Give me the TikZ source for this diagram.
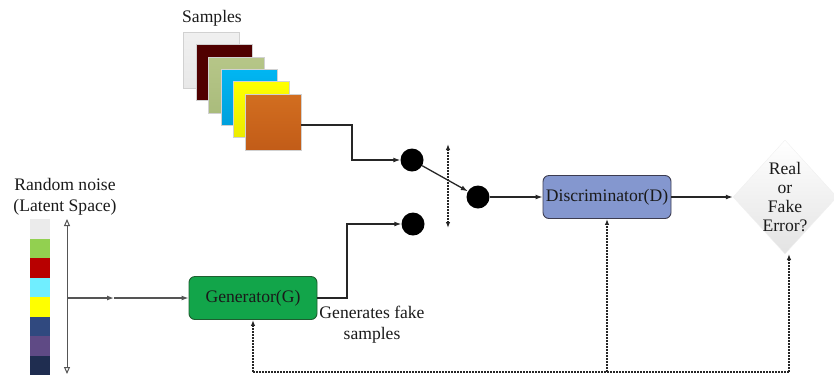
\documentclass[tikz,border=0pt]{standalone}
\usepackage{fontspec}
\setmainfont{Liberation Serif}
\newfontfamily\tnr{Liberation Serif}
\usetikzlibrary{arrows.meta,shapes.geometric}
\definecolor{txt}{HTML}{1A1A1A}
\definecolor{gfill}{HTML}{12A54A}
\definecolor{gdraw}{HTML}{1E5E30}
\definecolor{dfill}{HTML}{8497CF}
\definecolor{ddraw}{HTML}{3C3C50}
\definecolor{lgray}{HTML}{555555}
\begin{document}
\begin{tikzpicture}[x=1pt,y=-1pt,
  font=\tnr\fontsize{17.6}{20.5}\selectfont, text=txt,
  sq/.style={minimum size=56pt, inner sep=0, draw=white!82!black, line width=0.6pt},
  cell/.style={minimum width=20pt, minimum height=19.5pt, inner sep=0},
  dot/.style={circle, fill=black, minimum size=23pt, inner sep=0},
  box/.style={rounded corners=6pt, minimum width=128pt, minimum height=43pt, line width=0.9pt, inner sep=0},
  conn/.style={line width=1.3pt, draw=black!85, -{Latex[length=7pt,width=5pt]}},
  gline/.style={line width=1.3pt, draw=lgray},
  fb/.style={line width=1.2pt, draw=black!85, dash pattern=on 2pt off 1pt},
  fbarrow/.style={fb, -{Latex[length=6pt,width=4.5pt]}},
  dia/.style={diamond, minimum width=104pt, minimum height=114pt, inner sep=0,
    top color=white, bottom color=black!11, draw=black!6}
]
\clip (0,0) rectangle (834,376);
\useasboundingbox (0,0) rectangle (834,376);

% Samples
\node (lblS) at (212,18) {Samples};
\node[sq, top color=black!6, bottom color=black!9] (s1) at (211.5,60) {};
\node[sq, fill={rgb,255:red,80;green,0;blue,0}] (s2) at (224,72) {};
\node[sq, top color={rgb,255:red,182;green,198;blue,136}, bottom color={rgb,255:red,170;green,188;blue,124}] (s3) at (236,85) {};
\node[sq, top color={rgb,255:red,0;green,182;blue,242}, bottom color={rgb,255:red,0;green,160;blue,220}] (s4) at (249,97) {};
\node[sq, top color={rgb,255:red,255;green,255;blue,0}, bottom color={rgb,255:red,236;green,236;blue,0}] (s5) at (261,109) {};
\node[sq, top color={rgb,255:red,210;green,110;blue,32}, bottom color={rgb,255:red,194;green,92;blue,24}] (s6) at (273,122) {};

% Latent space
\node[align=center] (lblL) at (65,197) {Random noise\\(Latent Space)};
\foreach \c [count=\i from 0] in {EBEBEB,92D050,B80000,70EEFF,FFFF00,30497F,5F4A85,1F2D50}{
  \definecolor{cc}{HTML}{\c}
  \node[cell, fill=cc] (l\i) at (40,{228.75+19.5*\i}) {};
}
\coordinate (la) at (67,219);
\coordinate (lb) at (67,374);
\draw[gline, line width=1pt, {Triangle[open,length=7pt,width=6pt]}-{Triangle[open,length=7pt,width=6pt]}] (la) -- (lb);
\coordinate (lm) at (67,298);
\coordinate (lmid) at (114,298);

% Generator and Discriminator
\node[box, fill=gfill, draw=gdraw] (G) at (253,298) {Generator(G)};
\node[box, fill=dfill, draw=ddraw] (D) at (607,197) {Discriminator(D)};
\node[align=center, font=\tnr\fontsize{17.6}{21}\selectfont] (lblF) at (372,325) {Generates fake\\samples};

% switch
\node[dot] (c1) at (412,160) {};
\node[dot] (c2) at (413,224) {};
\node[dot] (c3) at (478,197) {};
\coordinate (sw1) at (448,144);
\coordinate (sw2) at (448,228);
\draw[fb, {Latex[length=6pt,width=4.5pt]}-{Latex[length=6pt,width=4.5pt]}] (sw1) -- (sw2);

% decision
\node[dia] (R) at (785,197) {};
\node[align=center, font=\tnr\fontsize{17.6}{19}\selectfont] (Rt) at (785,197) {Real\\or\\Fake\\Error?};

% connectors
\draw[gline, -{Latex[length=7pt,width=5pt]}] (lm) -- (lmid);
\draw[gline, -{Latex[length=7pt,width=5pt]}] (lmid) -- (G.west);
\coordinate (p1) at (352,125);
\coordinate (p2) at (352,160);
\draw[conn] (s6.east |- p1) -- (p1) -- (p2) -- (c1);
\coordinate (q1) at (347,298);
\coordinate (q2) at (347,224);
\draw[conn] (G.east |- q1) -- (q1) -- (q2) -- (c2);
\draw[conn] (c1) -- (c3);
\draw[conn] (c3) -- (D.west |- c3);
\draw[conn] (D.east) -- (R.west);

% feedback
\coordinate (f1) at (253,372);
\coordinate (f2) at (607,372);
\coordinate (f3) at (789,372);
\coordinate (f3t) at (789,254);
\draw[fb] (f1) -- (f3);
\draw[fbarrow] (f1) -- (G.south);
\draw[fbarrow] (f2) -- (D.south);
\draw[fbarrow] (f3) -- (f3t);
\end{tikzpicture}
\end{document}
